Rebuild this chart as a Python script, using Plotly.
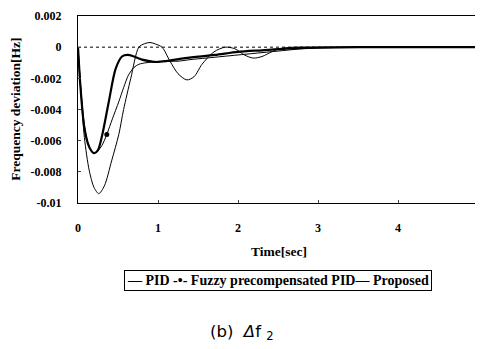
import plotly.graph_objects as go

# ---- data ----
pid_t = [0, 0.03, 0.08, 0.14, 0.2, 0.26, 0.33, 0.42, 0.51, 0.57, 0.66, 0.76, 0.83, 0.9, 0.97,
         1.05, 1.15, 1.25, 1.36, 1.45, 1.55, 1.7, 1.84, 1.96, 2.08, 2.19, 2.3, 2.42, 2.52, 2.7,
         3.0, 3.5, 4.0, 4.5, 5.0]
pid_v = [0, -0.0023, -0.0058, -0.0079, -0.0090, -0.0094, -0.0089, -0.0073, -0.0056, -0.0040,
         -0.0020, 0.0, 0.00022, 0.0003, 0.0002, 0.0, -0.0009, -0.0017, -0.0021, -0.0019,
         -0.0011, -0.0003, 0.0, -0.0001, -0.0005, -0.0007, -0.0006, -0.0003, -0.0001, 0.0,
         0.0, 0.0, 0.0, 0.0, 0.0]

fuzzy_t = [0, 0.03, 0.08, 0.14, 0.2, 0.24, 0.3, 0.36, 0.43, 0.51, 0.57, 0.63, 0.7, 0.76, 0.85,
           0.97, 1.1, 1.25, 1.4, 1.6, 1.8, 2.0, 2.2, 2.4, 2.6, 2.8, 3.0, 3.5, 4.0, 5.0]
fuzzy_v = [0, -0.0023, -0.0050, -0.0064, -0.0068, -0.0067, -0.0063, -0.0056, -0.0046, -0.0035,
           -0.0026, -0.0018, -0.0013, -0.0011, -0.0010, -0.00095, -0.0009, -0.0009, -0.0008,
           -0.0007, -0.0006, -0.0005, -0.0004, -0.0003, -0.0002, -0.0001, -0.00005, 0, 0, 0]
fuzzy_marker_t = [0.36]
fuzzy_marker_v = [-0.0056]

prop_t = [0, 0.03, 0.08, 0.14, 0.2, 0.25, 0.3, 0.385, 0.47, 0.55, 0.62, 0.7, 0.8, 0.9, 0.97,
          1.1, 1.34, 1.71, 2.0, 2.3, 2.6, 3.0, 3.5, 4.0, 5.0]
prop_v = [0, -0.0025, -0.0052, -0.0064, -0.0068, -0.0066, -0.0057, -0.0035, -0.0014, -0.0006,
          -0.0005, -0.0006, -0.0008, -0.0009, -0.00095, -0.0009, -0.0007, -0.0005, -0.0003,
          -0.0002, -0.0001, -0.00003, 0, 0, 0]

x_ticks = [0, 1, 2, 3, 4, 5]
y_ticks = [0.002, 0, -0.002, -0.004, -0.006, -0.008, -0.01]
y_tick_labels = ["0.002", "0", "-0.002", "-0.004", "-0.006", "-0.008", "-0.01"]

legend_text = "— PID -•- Fuzzy precompensated PID— Proposed"
x_title = "Time[sec]"
y_title = "Frequency deviation[Hz]"
caption = "(b)  <i>Δ</i>f <sub>2</sub>"

serif = "Liberation Serif, Times New Roman, serif"

fig = go.Figure()
fig.add_trace(go.Scatter(x=pid_t, y=pid_v, mode="lines", name="PID",
                         line=dict(color="black", width=1, shape="spline", smoothing=0.8)))
fig.add_trace(go.Scatter(x=fuzzy_t, y=fuzzy_v, mode="lines", name="Fuzzy precompensated PID",
                         line=dict(color="black", width=1, shape="spline", smoothing=0.8)))
fig.add_trace(go.Scatter(x=fuzzy_marker_t, y=fuzzy_marker_v, mode="markers",
                         name="Fuzzy precompensated PID",
                         marker=dict(color="black", size=5, symbol="circle")))
fig.add_trace(go.Scatter(x=prop_t, y=prop_v, mode="lines", name="Proposed",
                         line=dict(color="black", width=2.2, shape="spline", smoothing=0.8)))

fig.add_shape(type="line", xref="paper", x0=0, x1=1, yref="y", y0=0, y1=0,
              line=dict(color="black", width=1, dash="dot"), layer="below")

# the page body adds an 8px offset, so the figure is sized to the visible area
fig.update_layout(
    width=475, height=341,
    margin=dict(l=70, r=5, t=8, b=146),
    paper_bgcolor="white", plot_bgcolor="white",
    font=dict(family=serif, size=12, color="black", weight="bold"),
    showlegend=False,
    xaxis=dict(range=[0, 5], tickvals=x_ticks, ticks="inside", ticklen=3,
               showline=True, linecolor="black", linewidth=1, mirror=True,
               showgrid=False, zeroline=False, automargin=False,
               ticklabeloverflow="allow", ticklabelstandoff=14,
               tickfont=dict(family=serif, size=12, weight="bold")),
    yaxis=dict(range=[-0.01, 0.002], tickvals=y_ticks, ticktext=y_tick_labels,
               ticks="inside", ticklen=3,
               showline=True, linecolor="black", linewidth=1, mirror=True,
               showgrid=False, zeroline=False, automargin=False,
               ticklabeloverflow="allow", ticklabelstandoff=13,
               tickfont=dict(family=serif, size=12, weight="bold")),
)

# axis titles (positions relative to the plot area; plot height is 187px)
fig.add_annotation(text=x_title, xref="paper", yref="paper", x=0.503, y=-0.262,
                   xanchor="center", yanchor="middle", showarrow=False,
                   font=dict(family=serif, size=13.5, color="black", weight="bold"))
fig.add_annotation(text=y_title, xref="paper", yref="paper", x=-0.1567, y=0.5,
                   xanchor="center", yanchor="middle", showarrow=False, textangle=-90,
                   font=dict(family=serif, size=13.5, color="black", weight="bold"))

# boxed legend line below the axis title
fig.add_annotation(text=legend_text, xref="paper", yref="paper", x=0.5, y=-0.417,
                   xanchor="center", yanchor="middle", showarrow=False,
                   bordercolor="black", borderwidth=1, borderpad=2, bgcolor="white",
                   font=dict(family=serif, size=14, color="black", weight="bold"))

# caption
fig.add_annotation(text=caption, xref="paper", yref="paper",
                   x=0.41, y=-0.69, xanchor="center", yanchor="middle", showarrow=False,
                   font=dict(family="DejaVu Sans, sans-serif", size=16.5, color="black",
                             weight="normal"))

fig.write_html("out.html")
